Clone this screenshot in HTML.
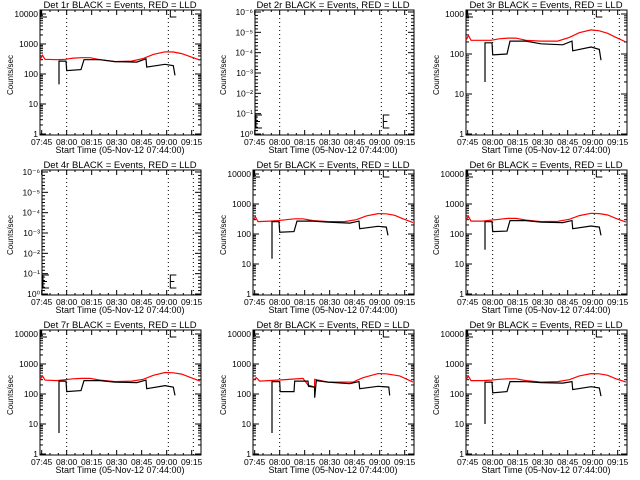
<!DOCTYPE html>
<html><head><meta charset="utf-8"><style>
html,body{margin:0;padding:0;background:#fff;width:640px;height:480px;overflow:hidden}
svg{display:block}
text{font-family:"Liberation Sans",sans-serif;fill:#000}
</style></head><body>
<svg id="c" width="640" height="480" viewBox="0 0 640 480"></svg>
<script>
// Time in minutes since 07:44:00
const tickLabelsX = ["07:45","08:00","08:15","08:30","08:45","09:00","09:15"];
const tickTimesX = [1,16,31,46,61,76,91];
const markerTimes = [16,77,92];

const redT1 = [0,1.5,3,10,15,20,25,30,36,45,55,62,68,75,80,85,90,96];
const redV1 = [300,420,310,300,310,340,350,350,300,260,270,330,450,550,540,480,380,290];
const blkT1 = [11.4,11.4,15.6,16,24.6,26.4,36,45,58,63.6,64,75,80,81];
const blkV1 = [45,270,270,130,140,300,300,260,250,320,170,210,190,90];

const redV3 = [220,290,220,220,220,240,250,250,220,210,210,260,340,400,380,330,260,200];
const blkV3 = [20,190,190,95,100,210,210,180,170,210,120,150,130,70];

const redV5 = [300,370,260,270,280,300,320,320,280,260,260,300,400,480,470,420,320,240];
const blkV5 = [15,260,260,115,120,270,270,250,230,270,150,180,170,90];

const redV6 = [300,380,270,270,290,310,330,330,290,260,265,310,410,490,480,430,330,250];
const blkV6 = [30,260,260,120,125,280,280,250,240,280,150,185,170,90];

const redV7 = [300,400,290,280,300,320,330,330,290,260,270,310,420,520,510,460,360,270];
const blkV7 = [5,270,270,120,130,280,280,250,240,290,150,190,170,90];

const redT8 = [0,2,4,15,30,33,36.9,37,45,60,66,75,80,88,96];
const redV8 = [280,350,270,290,330,200,170,310,250,250,350,480,470,400,250];
const blkT8 = [11.4,11.4,16,16.3,24.6,25,33,33.3,36.9,37,38,45,58,63.6,64,75,81.5,82];
const blkV8 = [5,260,260,120,120,270,270,180,170,75,280,250,220,260,150,180,170,90];

const redV9 = [300,390,280,280,290,310,320,320,280,250,260,300,400,480,470,420,320,250];
const blkV9 = [10,250,250,110,120,260,260,240,230,260,140,175,160,85];

const panels = [
 {n:"1r",type:"log",max:4,rt:redT1,rv:redV1,bt:blkT1,bv:blkV1},
 {n:"2r",type:"empty"},
 {n:"3r",type:"log",max:3,rt:redT1,rv:redV3,bt:blkT1,bv:blkV3},
 {n:"4r",type:"empty"},
 {n:"5r",type:"log",max:4,rt:redT1,rv:redV5,bt:blkT1,bv:blkV5},
 {n:"6r",type:"log",max:4,rt:redT1,rv:redV6,bt:blkT1,bv:blkV6},
 {n:"7r",type:"log",max:4,rt:redT1,rv:redV7,bt:blkT1,bv:blkV7},
 {n:"8r",type:"log",max:4,rt:redT8,rv:redV8,bt:blkT8,bv:blkV8},
 {n:"9r",type:"log",max:4,rt:redT1,rv:redV9,bt:blkT1,bv:blkV9}
];
const NS="http://www.w3.org/2000/svg";
const svg=document.getElementById("c");
function mk(tag,attrs,parent,txt){const e=document.createElementNS(NS,tag);for(const k in attrs)e.setAttribute(k,attrs[k]);if(txt!==undefined)e.textContent=txt;parent.appendChild(e);return e;}

panels.forEach((p,i)=>{
  const ox=(i%3)*213, oy=Math.floor(i/3)*160;
  const g=mk("g",{transform:`translate(${ox},${oy})`},svg);
  
  
  const L=p.type==="empty"?42:40, R=201, T=10, B=135;
  const xs=t=>40+t/0.6;
  let ys;
  if(p.type==="log"){const top=14,bot=134,d=(bot-top)/p.max;ys=v=>bot-Math.log10(v)*d;}
  else {ys=k=>134-k*(122/6);}
  // title
  const tt=mk("text",{x:120,y:8,"font-size":"9.5","text-anchor":"middle"},g,`Det ${p.n} BLACK = Events, RED = LLD`);
  
  
  // box
  const box=mk("rect",{x:L,y:T,width:R-L,height:B-T,fill:"none",stroke:"#000","stroke-width":1},g);
  
  
  // x ticks
  tickTimesX.forEach((t,j)=>{
    const x=xs(t);
    mk("line",{x1:x,y1:B,x2:x,y2:B-5,stroke:"#000"},g);
    mk("line",{x1:x,y1:T,x2:x,y2:T+5,stroke:"#000"},g);
    const lb=mk("text",{x:x,y:B+10,"font-size":"8.5","text-anchor":"middle"},g,tickLabelsX[j]);
    
    
  });
  for(let t=6;t<96;t+=5){if((t-1)%15===0)continue;const x=xs(t);
    mk("line",{x1:x,y1:B,x2:x,y2:B-2,stroke:"#000"},g);mk("line",{x1:x,y1:T,x2:x,y2:T+2,stroke:"#000"},g);}
  const xt=mk("text",{x:120,y:B+18,"font-size":"9","text-anchor":"middle"},g,"Start Time (05-Nov-12 07:44:00)");
  
  
  const yt=mk("text",{x:0,y:0,"font-size":"8","text-anchor":"middle",transform:`translate(13,75) rotate(-90)`},g,"Counts/sec");
  
  
  // y ticks
  if(p.type==="log"){
    for(let k=0;k<=p.max;k++){
      const y=ys(Math.pow(10,k));
      mk("line",{x1:L,y1:y,x2:L+6,y2:y,stroke:"#000"},g);
      mk("line",{x1:R,y1:y,x2:R-6,y2:y,stroke:"#000"},g);
      const lb=mk("text",{x:L-2,y:y+3,"font-size":"8.5","text-anchor":"end"},g,String(Math.pow(10,k)));
      
      
      for(let m=2;m<10;m++){const yy=ys(m*Math.pow(10,k));if(yy<T)break;
        mk("line",{x1:L,y1:yy,x2:L+3,y2:yy,stroke:"#000"},g);mk("line",{x1:R,y1:yy,x2:R-3,y2:yy,stroke:"#000"},g);}
    }
  } else {
    const labs=["10\u2070","10\u207B\u00B9","10\u207B\u00B2","10\u207B\u00B3","10\u207B\u2074","10\u207B\u2075","10\u207B\u2076"];
    for(let k=0;k<=6;k++){const y=ys(k);
      mk("line",{x1:L,y1:y,x2:L+6,y2:y,stroke:"#000"},g);mk("line",{x1:R,y1:y,x2:R-6,y2:y,stroke:"#000"},g);
      const lb=mk("text",{x:L-2,y:y+3,"font-size":"8.5","text-anchor":"end"},g,labs[k]);
      
      
      if(k<6)for(let m=1;m<6;m++){const yy=y-m*(122/6)/6;
        mk("line",{x1:L,y1:yy,x2:L+3,y2:yy,stroke:"#000"},g);mk("line",{x1:R,y1:yy,x2:R-3,y2:yy,stroke:"#000"},g);}
    }
  }
  // dotted markers
  markerTimes.forEach(t=>{const x=xs(t);
    const l=mk("line",{x1:x,y1:T,x2:x,y2:B,stroke:"#000","stroke-dasharray":"1,3"},g);
    
    });
  // E markers
  const eY=p.type==="log"?[T,T+7]:[B-20,B-7];
  [[L+1,0],[xs(77)+2,1]].forEach(([x,j])=>{
    const e=mk("path",{d:`M${x+6},${eY[0]}H${x}V${eY[1]}H${x+6}`+(p.type==="empty"?`M${x},${(eY[0]+eY[1])/2}H${x+4}`:""),fill:"none",stroke:"#000"},g);
    
    
  });
  if(p.type==="log"){
    const stepPath=(ts,vs)=>ts.map((t,k)=>(k?"L":"M")+xs(t).toFixed(1)+","+ys(vs[k]).toFixed(1)).join("");
    const r=mk("path",{d:stepPath(p.rt,p.rv),fill:"none",stroke:"#f00","stroke-width":1.2},g);
    
    
    const b=mk("path",{d:stepPath(p.bt,p.bv),fill:"none",stroke:"#000","stroke-width":1.2},g);
    
    
  }
});
</script>
</body></html>
